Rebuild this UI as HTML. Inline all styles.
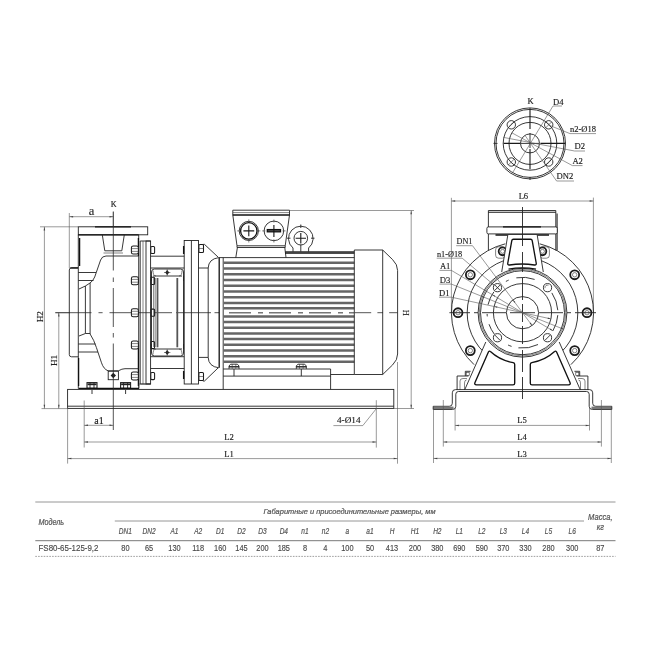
<!DOCTYPE html>
<html><head><meta charset="utf-8"><title>Pump dimensions</title>
<style>
html,body{margin:0;padding:0;background:#fff;}
body{width:650px;height:650px;overflow:hidden;font-family:"Liberation Sans",sans-serif;}
svg{display:block;will-change:transform}
.l{fill:none;stroke:#222;stroke-width:0.9}
.lw{fill:#fff;stroke:#222;stroke-width:0.9}
.l2{fill:none;stroke:#333;stroke-width:0.6}
.k{fill:none;stroke:#111;stroke-width:1.3}
.n{fill:#fff;stroke:#1a1a1a;stroke-width:1.05}
.l3{fill:none;stroke:#444;stroke-width:0.45}
.cl{fill:none;stroke:#2a2a2a;stroke-width:0.8}
.kb{fill:none;stroke:#222;stroke-width:1.8}
.bar{fill:none;stroke:#555;stroke-width:1.8}
.g4{fill:none;stroke:#777;stroke-width:2.6}
.k1{fill:none;stroke:#1a1a1a;stroke-width:1.1}
.kk{fill:#fff;stroke:#111;stroke-width:1.35;stroke-linejoin:round}
.f{fill:#222;stroke:none}
.wf{fill:#fff;stroke:none}
.g2{fill:none;stroke:#666;stroke-width:1.4}
.g3{fill:none;stroke:#777;stroke-width:2}
.fin{fill:none;stroke:#666;stroke-width:2.5}
.mc{fill:none;stroke:#777;stroke-width:1.5;stroke-dasharray:22 7 5 6}
.c{fill:none;stroke:#333;stroke-width:0.6;stroke-dasharray:12 3 3 3}
.d{fill:none;stroke:#555;stroke-width:0.6}
.af{fill:#444;stroke:none}
.dsh{fill:none;stroke:#222;stroke-width:0.9;stroke-dasharray:9 6}
.bolt{fill:#fff;stroke:#1a1a1a;stroke-width:1.8}
.t{font-family:"Liberation Serif",serif;font-size:8.6px;fill:#222;stroke:#222;stroke-width:0.15}
.th{font-family:"Liberation Sans",sans-serif;font-style:italic;font-size:8.4px;fill:#555;stroke:#555;stroke-width:0.2}
.td{font-family:"Liberation Sans",sans-serif;font-size:8.6px;fill:#4a4a4a;stroke:#4a4a4a;stroke-width:0.15}
.tl{stroke:#8a8a8a;stroke-width:0.9}
.tl2{stroke:#6a6a6a;stroke-width:0.9}
.tdot{stroke:#888;stroke-width:0.8;stroke-dasharray:1.6 1.2}
</style></head><body>
<svg width="650" height="650" viewBox="0 0 650 650">
<rect x="0" y="0" width="650" height="650" fill="#fff"/>
<line class="d" x1="40" y1="226.8" x2="78" y2="226.8"/>
<line class="d" x1="55" y1="312.7" x2="70" y2="312.7"/>
<line class="d" x1="41.5" y1="408.6" x2="67.6" y2="408.6"/>
<line class="d" x1="44.4" y1="226.8" x2="44.4" y2="408.6"/>
<path class="af" d="M44.40,226.80L45.15,230.60L43.65,230.60Z"/>
<path class="af" d="M44.40,408.60L43.65,404.80L45.15,404.80Z"/>
<line class="d" x1="58.8" y1="312.7" x2="58.8" y2="408.6"/>
<path class="af" d="M58.80,312.70L59.55,316.50L58.05,316.50Z"/>
<path class="af" d="M58.80,408.60L58.05,404.80L59.55,404.80Z"/>
<text class="t" transform="translate(43,316.7) rotate(-90) scale(1.12,1)" text-anchor="middle" style="font-size:8.2px">H2</text>
<text class="t" transform="translate(57,360.5) rotate(-90) scale(1.12,1)" text-anchor="middle" style="font-size:8.2px">H1</text>
<line class="d" x1="69.3" y1="213" x2="69.3" y2="268"/>
<line class="d" x1="113.3" y1="211" x2="113.3" y2="226"/>
<line class="d" x1="69.3" y1="216.7" x2="113.3" y2="216.7"/>
<path class="af" d="M69.30,216.70L73.10,215.95L73.10,217.45Z"/>
<path class="af" d="M113.30,216.70L109.50,217.45L109.50,215.95Z"/>
<text class="t" x="91.5" y="215" text-anchor="middle" style="font-size:12.5px">a</text>
<text class="t" x="113.8" y="206.8" text-anchor="middle" style="font-size:8.2px">K</text>
<rect class="l" x="78.3" y="226.8" width="69.4" height="8" rx="0"/>
<line class="k" x1="95" y1="226.8" x2="131" y2="226.8"/>
<path class="l" d="M78.3,234.8V388.5H138.7V234.8"/>
<line class="k" x1="78.3" y1="234.8" x2="138.7" y2="234.8"/>
<path class="k" d="M79.6,238V266"/>
<path class="k" d="M138.4,238V256"/>
<path class="k" d="M138.4,345V386"/>
<path class="k" d="M78.6,358V386"/>
<path class="l" d="M78.3,267.8H71.5Q69.3,267.8 69.3,270V354.6Q69.3,356.8 71.5,356.8H78.3"/>
<line class="k" x1="70.3" y1="268" x2="78" y2="268"/>
<path class="l" d="M102.3,234.8L104.8,250.8 M124.3,234.8L121.8,250.8"/>
<line class="l" x1="104.8" y1="250.8" x2="121.8" y2="250.8"/>
<line class="l2" x1="103.5" y1="253" x2="123" y2="253"/>
<path class="l" d="M138.7,256H106Q102,256 100.6,260L94.7,277Q93,281 90,283L85.4,286 L79,289"/>
<line class="l" x1="78.3" y1="272.5" x2="96" y2="272.5"/>
<line class="l" x1="78.3" y1="280.5" x2="93.5" y2="280.5"/>
<path class="l" d="M85.4,286V333.5"/>
<path class="l" d="M90.1,283V334"/>
<path class="l" d="M79,336L85.4,333.5H90.1"/>
<path class="l" d="M90.1,334Q94,340 96.4,347.5L101.5,362.8Q103.5,369 108,370.8H118.4 Q122,368.7 125,368.7H138.7"/>
<line class="l" x1="78.3" y1="344" x2="95.5" y2="344"/>
<line class="l" x1="78.3" y1="352" x2="98" y2="352"/>
<rect class="l" x="108.2" y="371.2" width="10.2" height="8.5" rx="0"/>
<path class="f" d="M113.3,372.8L116,375.5L113.3,378.2L110.6,375.5Z"/>
<rect class="n" x="87" y="382.6" width="10" height="5.6" rx="0"/>
<line class="l" x1="90" y1="382.6" x2="90" y2="388"/>
<line class="l" x1="94" y1="382.6" x2="94" y2="388"/>
<line class="kb" x1="87.5" y1="384.3" x2="96.5" y2="384.3"/>
<line class="l" x1="92" y1="390" x2="92" y2="394"/>
<rect class="n" x="120.6" y="382.6" width="10" height="5.6" rx="0"/>
<line class="l" x1="123.6" y1="382.6" x2="123.6" y2="388"/>
<line class="l" x1="127.6" y1="382.6" x2="127.6" y2="388"/>
<line class="kb" x1="121.1" y1="384.3" x2="130.1" y2="384.3"/>
<line class="l" x1="125.6" y1="390" x2="125.6" y2="394"/>
<line class="k" x1="79" y1="388.3" x2="139" y2="388.3"/>
<path class="cl" d="M113.3,212V270.5 M113.3,277.5V282 M113.3,288V327 M113.3,333V337.5 M113.3,343.5V430"/>
<path class="cl" d="M55.5,312.7H91.5 M98.5,312.7H102.6 M109.5,312.7H172 M176,312.7H211 M214.5,312.7H219"/>
<path class="l" d="M140.2,241V384"/>
<rect class="l" x="146" y="241" width="4.6" height="143" rx="0"/>
<path class="l" d="M140.2,241H150.6 M140.2,384H150.6"/>
<line class="l2" x1="143" y1="241" x2="143" y2="384"/>
<rect class="n" x="131.4" y="246" width="7" height="8" rx="1.8"/>
<line class="l2" x1="131.6" y1="248.6" x2="138.4" y2="248.6"/>
<line class="l2" x1="131.6" y1="251.4" x2="138.4" y2="251.4"/>
<rect class="n" x="150.8" y="246.4" width="3.8" height="7.2" rx="1"/>
<rect class="n" x="131.4" y="276.8" width="7" height="8" rx="1.8"/>
<line class="l2" x1="131.6" y1="279.40000000000003" x2="138.4" y2="279.40000000000003"/>
<line class="l2" x1="131.6" y1="282.2" x2="138.4" y2="282.2"/>
<rect class="n" x="150.8" y="277.2" width="3.8" height="7.2" rx="1"/>
<rect class="n" x="131.4" y="308.7" width="7" height="8" rx="1.8"/>
<line class="l2" x1="131.6" y1="311.3" x2="138.4" y2="311.3"/>
<line class="l2" x1="131.6" y1="314.09999999999997" x2="138.4" y2="314.09999999999997"/>
<rect class="n" x="150.8" y="309.09999999999997" width="3.8" height="7.2" rx="1"/>
<rect class="n" x="131.4" y="341" width="7" height="8" rx="1.8"/>
<line class="l2" x1="131.6" y1="343.6" x2="138.4" y2="343.6"/>
<line class="l2" x1="131.6" y1="346.4" x2="138.4" y2="346.4"/>
<rect class="n" x="150.8" y="341.4" width="3.8" height="7.2" rx="1"/>
<rect class="n" x="131.4" y="372" width="7" height="8" rx="1.8"/>
<line class="l2" x1="131.6" y1="374.6" x2="138.4" y2="374.6"/>
<line class="l2" x1="131.6" y1="377.4" x2="138.4" y2="377.4"/>
<rect class="n" x="150.8" y="372.4" width="3.8" height="7.2" rx="1"/>
<path class="l" d="M150.6,256.2H184.2 M150.6,268H184.2 M150.6,356.7H184.2 M150.6,368.5H184.2"/>
<path class="l" d="M151.5,281V272Q151.5,269 154.5,269H180.5Q183.5,269 183.5,272V281"/>
<path class="l" d="M151.5,344V353Q151.5,356 154.5,356H180.5Q183.5,356 183.5,353V344"/>
<path class="l" d="M153,276H182 M153,349H182"/>
<path class="l2" d="M153,270.5Q153,276 156,276 M182,270.5Q182,276 179,276 M153,354.5Q153,349 156,349 M182,354.5Q182,349 179,349"/>
<line class="l" x1="151.5" y1="276" x2="151.5" y2="349"/>
<line class="l" x1="183.5" y1="276" x2="183.5" y2="349"/>
<line class="l2" x1="155.2" y1="278" x2="155.2" y2="347"/>
<line class="bar" x1="157.5" y1="278" x2="157.5" y2="347.3"/>
<line class="bar" x1="177.3" y1="278" x2="177.3" y2="347.3"/>
<line class="l2" x1="153.6" y1="278" x2="153.6" y2="347"/>
<path class="f" d="M167.2,269.9L169.2,272.5L167.2,275.1L165.2,272.5Z"/>
<line class="l2" x1="164" y1="272.5" x2="170.4" y2="272.5"/>
<line class="l2" x1="167.2" y1="269.3" x2="167.2" y2="275.7"/>
<path class="f" d="M167.2,349.9L169.2,352.5L167.2,355.1L165.2,352.5Z"/>
<line class="l2" x1="164" y1="352.5" x2="170.4" y2="352.5"/>
<line class="l2" x1="167.2" y1="349.3" x2="167.2" y2="355.7"/>
<rect class="l" x="184.2" y="240.5" width="14.3" height="143.5" rx="0"/>
<line class="l" x1="191.4" y1="240.5" x2="191.4" y2="384"/>
<line class="k" x1="183.6" y1="246" x2="183.6" y2="254"/>
<line class="k" x1="183.6" y1="371" x2="183.6" y2="379"/>
<rect class="n" x="198.9" y="244.5" width="4.6" height="8" rx="1"/>
<line class="l2" x1="198.9" y1="248.5" x2="203.5" y2="248.5"/>
<rect class="n" x="198.9" y="372.5" width="4.6" height="8" rx="1"/>
<line class="l2" x1="198.9" y1="376.5" x2="203.5" y2="376.5"/>
<path class="l" d="M198.5,268H208.2V357.4H198.5"/>
<path class="l" d="M202.9,244.4H204.5L218,257"/>
<path class="l" d="M202.9,381H204.5L218,368"/>
<path class="l" d="M208.2,268Q208.5,259 218.8,257.6"/>
<path class="l" d="M208.2,357.4Q208.5,366.5 218.8,367.8"/>
<path class="k" d="M219.2,257.6V367.8"/>
<path class="l" d="M223.2,257.6V389.3"/>
<line class="l" x1="218.8" y1="257.6" x2="354.3" y2="257.6"/>
<line class="fin" x1="223.6" y1="262.7" x2="354.3" y2="262.7"/>
<line class="fin" x1="223.6" y1="268.46" x2="354.3" y2="268.46"/>
<line class="fin" x1="223.6" y1="274.22" x2="354.3" y2="274.22"/>
<line class="fin" x1="223.6" y1="279.98" x2="354.3" y2="279.98"/>
<line class="fin" x1="223.6" y1="285.74" x2="354.3" y2="285.74"/>
<line class="fin" x1="223.6" y1="291.5" x2="354.3" y2="291.5"/>
<line class="fin" x1="223.6" y1="297.26" x2="354.3" y2="297.26"/>
<line class="fin" x1="223.6" y1="303.02" x2="354.3" y2="303.02"/>
<line class="fin" x1="223.6" y1="308.2" x2="354.3" y2="308.2"/>
<line class="fin" x1="223.6" y1="316.4" x2="354.3" y2="316.4"/>
<line class="fin" x1="223.6" y1="322.08" x2="354.3" y2="322.08"/>
<line class="fin" x1="223.6" y1="327.76" x2="354.3" y2="327.76"/>
<line class="fin" x1="223.6" y1="333.44" x2="354.3" y2="333.44"/>
<line class="fin" x1="223.6" y1="339.12" x2="354.3" y2="339.12"/>
<line class="fin" x1="223.6" y1="344.8" x2="354.3" y2="344.8"/>
<line class="fin" x1="223.6" y1="350.48" x2="354.3" y2="350.48"/>
<line class="fin" x1="223.6" y1="356.16" x2="354.3" y2="356.16"/>
<line class="fin" x1="223.6" y1="361.84" x2="354.3" y2="361.84"/>
<path class="mc" d="M229,312.7H354"/>
<path class="cl" d="M354.5,312.7H371.2 M377.4,312.7H383 M389.2,312.7H397.5"/>
<path class="l" d="M232.8,210.2H289.5V215L285.2,245.8V247.5H237V245.8L232.8,215Z"/>
<line class="k" x1="232.8" y1="215" x2="289.5" y2="215"/>
<line class="l" x1="237" y1="245.8" x2="285.2" y2="245.8"/>
<path class="l" d="M237.4,247.5L235.8,257.6 M284.8,247.5L286,257.6"/>
<line class="l2" x1="233" y1="212.6" x2="289.3" y2="212.6"/>
<circle class="l" cx="248.8" cy="230.9" r="9.6"/>
<circle class="k" cx="248.8" cy="230.9" r="8.2"/>
<path class="k1" d="M248.8,225.5V236.3 M243.4,230.9H254.2"/>
<path class="l2" d="M248.8,219.3V222.5 M237.2,230.9H240.4 M257.2,230.9H260.4 M248.8,239.3V242.5"/>
<circle class="l" cx="273.9" cy="230.9" r="9.8"/>
<path class="k1" d="M273.9,225V237 M267,230.9H281"/>
<rect class="k" x="267.3" y="229.6" width="13.2" height="2.2" rx="0"/>
<path class="l2" d="M273.9,219.5V222.5 M262.2,230.9H265.4 M282.4,230.9H285.6 M273.9,239.3V242.5"/>
<line class="l" x1="285.2" y1="251.7" x2="354.3" y2="251.7"/>
<line class="k" x1="285.2" y1="253" x2="354.3" y2="253"/>
<path class="l" d="M293,251.7V248 A12.3,12.3 0 1 1 308.6,248V251.7"/>
<circle class="l" cx="300.8" cy="238.2" r="6.8"/>
<path class="k1" d="M300.8,233V243.4 M295.6,238.2H306"/>
<path class="l" d="M300.8,244.5V251.7 M300.8,224.5V228 M287,238.2H290.5 M311,238.2H314.5"/>
<path class="l" d="M354.3,250H382.7L392.6,259.6Q397.6,264.5 397.6,270.5V354Q397.6,360 392.6,364.9L382.7,374.5H354.3Z"/>
<line class="l" x1="382.7" y1="250" x2="382.7" y2="374.5"/>
<path class="l" d="M223.2,369H330.6V389.3"/>
<line class="l" x1="223.2" y1="376.1" x2="330.6" y2="376.1"/>
<line class="l" x1="330.6" y1="374.5" x2="354.3" y2="374.5"/>
<path class="l" d="M229,368.8V366L230.6,364.2H237.4L239,366V368.8"/>
<line class="k" x1="229" y1="366.8" x2="239" y2="366.8"/>
<line class="l2" x1="232.2" y1="364.2" x2="232.2" y2="368.8"/>
<line class="l2" x1="235.8" y1="364.2" x2="235.8" y2="368.8"/>
<line class="l" x1="234" y1="369" x2="234" y2="376.1"/>
<path class="l" d="M296.3,368.8V366L297.90000000000003,364.2H304.7L306.3,366V368.8"/>
<line class="k" x1="296.3" y1="366.8" x2="306.3" y2="366.8"/>
<line class="l2" x1="299.5" y1="364.2" x2="299.5" y2="368.8"/>
<line class="l2" x1="303.1" y1="364.2" x2="303.1" y2="368.8"/>
<line class="l" x1="301.3" y1="369" x2="301.3" y2="376.1"/>
<path class="l2" d="M139,388.5V384H150.6"/>
<rect class="l" x="67.6" y="389.4" width="326.2" height="19" rx="0"/>
<line class="l" x1="67.6" y1="406.2" x2="393.8" y2="406.2"/>
<line class="d" x1="289.5" y1="210.5" x2="414" y2="210.5"/>
<line class="d" x1="394" y1="408.5" x2="414" y2="408.5"/>
<line class="d" x1="411.2" y1="210.5" x2="411.2" y2="408.5"/>
<path class="af" d="M411.20,210.50L411.95,214.30L410.45,214.30Z"/>
<path class="af" d="M411.20,408.50L410.45,404.70L411.95,404.70Z"/>
<text class="t" x="409.2" y="312.7" transform="rotate(-90 409.2 312.7)" text-anchor="middle" style="font-size:8.2px">H</text>
<line class="d" x1="67.6" y1="407" x2="67.6" y2="463.6"/>
<line class="d" x1="397.5" y1="362" x2="397.5" y2="463.7"/>
<line class="d" x1="84.2" y1="400.5" x2="84.2" y2="447.5"/>
<line class="d" x1="376.3" y1="400.2" x2="376.3" y2="447.6"/>
<line class="d" x1="84.2" y1="425.3" x2="113.3" y2="425.3"/>
<path class="af" d="M84.20,425.30L88.00,424.55L88.00,426.05Z"/>
<path class="af" d="M113.30,425.30L109.50,426.05L109.50,424.55Z"/>
<line class="d" x1="84.2" y1="442" x2="376.3" y2="442"/>
<path class="af" d="M84.20,442.00L88.00,441.25L88.00,442.75Z"/>
<path class="af" d="M376.30,442.00L372.50,442.75L372.50,441.25Z"/>
<line class="d" x1="67.6" y1="458.6" x2="397.5" y2="458.6"/>
<path class="af" d="M67.60,458.60L71.40,457.85L71.40,459.35Z"/>
<path class="af" d="M397.50,458.60L393.70,459.35L393.70,457.85Z"/>
<text class="t" x="99" y="423.8" text-anchor="middle" style="font-size:10px">a1</text>
<text class="t" x="229" y="439.8" text-anchor="middle">L2</text>
<text class="t" x="229" y="456.6" text-anchor="middle">L1</text>
<text class="t" x="337" y="422.8" textLength="23.5" lengthAdjust="spacingAndGlyphs">4-Ø14</text>
<path class="d" d="M333.4,425.6H362.8L376.3,408.7"/>
<circle class="l" cx="530" cy="143.4" r="35.5"/>
<circle class="l" cx="530" cy="143.4" r="34"/>
<circle class="l" cx="530" cy="143.4" r="26.8"/>
<circle class="l" cx="530" cy="143.4" r="21"/>
<circle class="l" cx="530" cy="143.4" r="9.5"/>
<circle class="l" cx="511.3" cy="124.80000000000001" r="4.2"/>
<line class="l2" x1="508.3" y1="127.80000000000001" x2="514.3" y2="121.80000000000001"/>
<circle class="l" cx="511.3" cy="162.0" r="4.2"/>
<line class="l2" x1="508.3" y1="165.0" x2="514.3" y2="159.0"/>
<circle class="l" cx="548.7" cy="124.80000000000001" r="4.2"/>
<line class="l2" x1="545.7" y1="127.80000000000001" x2="551.7" y2="121.80000000000001"/>
<circle class="l" cx="548.7" cy="162.0" r="4.2"/>
<line class="l2" x1="545.7" y1="165.0" x2="551.7" y2="159.0"/>
<line class="l2" x1="545.7" y1="121.80000000000001" x2="551.7" y2="127.80000000000001"/>
<path class="k1" d="M530,108.3V129 M530,149V169.3"/>
<path class="l" d="M530,133V148 M530,176.9V180"/>
<path class="k1" d="M503.5,143.4H520.5 M540.4,143.4H565.5"/>
<path class="l" d="M493.5,143.4H497.5 M521,143.4H539"/>
<text class="t" x="530.6" y="103.6" text-anchor="middle">K</text>
<text class="t" x="553" y="104.8" >D4</text>
<path class="d" d="M553,106H562"/>
<path class="d" d="M553,106L513,172"/>
<text class="t" x="570" y="132.2" textLength="26" lengthAdjust="spacingAndGlyphs">n2-Ø18</text>
<path class="d" d="M570,133.6H596"/>
<path class="d" d="M570,133.6L549,125.2"/>
<text class="t" x="574.6" y="149.4" >D2</text>
<path class="d" d="M574.6,151H585"/>
<path class="d" d="M574.6,151L503.5,137.4"/>
<text class="t" x="572.4" y="164" >A2</text>
<path class="d" d="M572.4,165.6H582.5"/>
<path class="d" d="M572.4,165.6L512,132.9"/>
<text class="t" x="556.6" y="179.4" >DN2</text>
<path class="d" d="M556.6,181H574"/>
<path class="d" d="M556.6,181L525,135.4"/>
<line class="d" x1="451.4" y1="197.8" x2="451.4" y2="312.7"/>
<line class="d" x1="593.4" y1="197.6" x2="593.4" y2="312.7"/>
<line class="d" x1="451.4" y1="201" x2="593.4" y2="201"/>
<path class="af" d="M451.40,201.00L455.20,200.25L455.20,201.75Z"/>
<path class="af" d="M593.40,201.00L589.60,201.75L589.60,200.25Z"/>
<text class="t" x="523.4" y="199.2" text-anchor="middle">L6</text>
<path class="l" d="M488.4,250.4V210.5H555.8V250.4"/>
<line class="k1" x1="488.4" y1="212.3" x2="555.8" y2="212.3"/>
<line class="g3" x1="557" y1="213.6" x2="557" y2="250.5"/>
<rect class="lw" x="486.9" y="226.9" width="70.4" height="7" rx="1.5"/>
<line class="k" x1="503" y1="226.9" x2="541" y2="226.9"/>
<line class="k" x1="495.5" y1="235" x2="549" y2="235"/>
<path class="l" d="M474.08,364.63A71,71 0 0 1 505.32,243.81"/>
<path class="l" d="M539.68,243.81A71,71 0 0 1 570.92,364.63"/>
<path class="l" d="M490.00,357.44A55.3,55.3 0 0 1 503.59,260.73"/>
<path class="l" d="M541.41,260.73A55.3,55.3 0 0 1 555.00,357.44"/>
<circle class="bolt" cx="587.00" cy="312.70" r="4.45"/>
<circle class="l2" cx="587.0" cy="312.7" r="2.2"/>
<circle class="bolt" cx="574.68" cy="350.61" r="4.45"/>
<circle class="l2" cx="574.68" cy="350.61" r="2.2"/>
<circle class="bolt" cx="470.32" cy="350.61" r="4.45"/>
<circle class="l2" cx="470.32" cy="350.61" r="2.2"/>
<circle class="bolt" cx="458.00" cy="312.70" r="4.45"/>
<circle class="l2" cx="458.0" cy="312.7" r="2.2"/>
<circle class="bolt" cx="470.32" cy="274.79" r="4.45"/>
<circle class="l2" cx="470.32" cy="274.79" r="2.2"/>
<circle class="bolt" cx="574.68" cy="274.79" r="4.45"/>
<circle class="l2" cx="574.68" cy="274.79" r="2.2"/>
<circle class="bolt" cx="502.57" cy="251.36" r="3.9"/>
<circle class="l2" cx="502.57" cy="251.36" r="2"/>
<circle class="bolt" cx="542.43" cy="251.36" r="3.9"/>
<circle class="l2" cx="542.43" cy="251.36" r="2"/>
<rect class="l2" x="495.6" y="246.8" width="9.8" height="11.4" rx="3"/>
<rect class="l2" x="539.6" y="246.8" width="9.8" height="11.4" rx="3"/>
<path class="wf" d="M507.8,235L501.5,274H543.5L537.2,235Z"/>
<path class="l" d="M507.8,235L501.7,272 M537.2,235L543.3,272"/>
<path class="wf" d="M485.8,342L464.8,389.6H580.2L559.2,342L522.5,330Z"/>
<path class="l" d="M485.8,342L464.8,389.6 M559.2,342L580.2,389.6"/>
<circle class="lw" cx="522.5" cy="312.7" r="44.4"/>
<circle class="l" cx="522.5" cy="312.7" r="42"/>
<circle class="l" cx="522.5" cy="312.7" r="29.1"/>
<circle class="l" cx="522.5" cy="312.7" r="16.1"/>
<path class="l" d="M551.85,292.90A35.4,35.4 0 0 1 557.81,310.23"/>
<path class="l" d="M557.81,315.17A35.4,35.4 0 0 1 552.84,330.93"/>
<path class="l" d="M538.02,344.52A35.4,35.4 0 0 1 518.43,347.87"/>
<path class="l" d="M511.56,346.37A35.4,35.4 0 0 1 508.10,345.04"/>
<path class="l" d="M494.23,334.00A35.4,35.4 0 0 1 489.03,324.23"/>
<path class="l" d="M487.29,316.40A35.4,35.4 0 0 1 487.12,313.94"/>
<path class="l" d="M488.01,304.74A35.4,35.4 0 0 1 493.86,291.89"/>
<path class="l" d="M505.88,281.44A35.4,35.4 0 0 1 508.67,280.11"/>
<path class="l" d="M516.35,277.84A35.4,35.4 0 0 1 534.61,279.43"/>
<circle class="lw" cx="547.53" cy="337.73" r="4.1"/>
<line class="l" x1="544.83" y1="340.43" x2="550.23" y2="335.03"/>
<circle class="lw" cx="497.47" cy="337.73" r="4.1"/>
<line class="l" x1="494.77" y1="335.03" x2="500.17" y2="340.43"/>
<circle class="lw" cx="497.47" cy="287.67" r="4.1"/>
<line class="l" x1="494.77" y1="290.37" x2="500.17" y2="284.97"/>
<line class="l" x1="494.77" y1="284.97" x2="500.17" y2="290.37"/>
<circle class="lw" cx="547.53" cy="287.67" r="4.1"/>
<path class="l2" d="M544.97,288.12A2.6,2.6 0 0 1 548.42,285.23"/>
<circle class="l2" cx="522.5" cy="312.7" r="43.2"/>
<path class="kk" d="M513.4,239.2H530.6Q532,239.2 532.2,240.6L536.2,263Q536.6,265.3 534.5,265 Q522,263 509.5,265Q507.4,265.3 507.8,263L511.8,240.6Q512,239.2 513.4,239.2Z"/>
<path class="k" d="M508.5,269.2Q522.3,266.4 536,269.2"/>
<path class="kk" d="M490.4,351.6Q500,360.5 513.2,362.6Q514.7,362.9 514.7,364.5V383.2Q514.7,384.8 513,384.8H476.5Q474,384.8 475,382.5L488.4,352Q489.2,350.4 490.4,351.6Z"/>
<path class="kk" d="M554.6,351.6Q545,360.5 531.8,362.6Q530.3,362.9 530.3,364.5V383.2Q530.3,384.8 532,384.8H568.5Q571,384.8 570,382.5L556.6,352Q555.8,350.4 554.6,351.6Z"/>
<path class="l" d="M457.1,390V376H468.5"/>
<path class="l" d="M465.3,376V371.3H470.6"/>
<path class="l2" d="M460.0,390V381Q460.0,378.5 463.0,378.5H467.0"/>
<path class="l2" d="M464.5,390V383Q464.5,380 466.5,380"/>
<rect class="l2" x="466.2" y="372.6" width="3" height="3" rx="0"/>
<path class="l" d="M587.9,390V376H576.5"/>
<path class="l" d="M579.7,376V371.3H574.4"/>
<path class="l2" d="M585.0,390V381Q585.0,378.5 582.0,378.5H578.0"/>
<path class="l2" d="M580.5,390V383Q580.5,380 578.5,380"/>
<rect class="l2" x="575.8" y="372.6" width="3" height="3" rx="0"/>
<path class="l" d="M433.2,406.3H449.3Q452.3,406.3 452.3,403.3V392.8Q452.3,389.6 455.5,389.6H589.5Q592.7,389.6 592.7,392.8V403.3Q592.7,406.3 595.7,406.3H611.8"/>
<path class="l" d="M433.2,409.5H452.5Q455.8,409.5 455.8,406.3V394.2Q455.8,391.5 458.5,391.5H586.5Q589.2,391.5 589.2,394.2V406.3Q589.2,409.5 592.5,409.5H611.8"/>
<line class="g4" x1="433.2" y1="407.9" x2="453.5" y2="407.9"/>
<line class="g4" x1="591.5" y1="407.9" x2="611.8" y2="407.9"/>
<path class="l" d="M433.2,406.3V409.5 M611.8,406.3V409.5"/>
<path class="l" d="M522.5,207V246"/>
<path class="l" d="M522.5,252V272 M522.5,278V300 M522.5,304V322 M522.5,326V344 M522.5,350V372 M522.5,377V399"/>
<path class="l" d="M449.4,312.7H470 M474,312.7H478 M482,312.7H506 M510,312.7H535 M539,312.7H563 M567,312.7H571 M575,312.7H596"/>
<text class="t" x="456.6" y="244.1" textLength="15.8" lengthAdjust="spacingAndGlyphs">DN1</text>
<path class="d" d="M456.2,245.7H472.5"/>
<path class="d" d="M472.5,245.7L532.13,325.60"/>
<path class="af" d="M532.13,325.60L529.65,323.46L530.78,322.62Z"/>
<path class="af" d="M512.87,299.80L515.35,301.94L514.22,302.78Z"/>
<text class="t" x="436.9" y="256.6" textLength="25.3" lengthAdjust="spacingAndGlyphs">n1-Ø18</text>
<path class="d" d="M436.7,258.2H462.2"/>
<path class="d" d="M462.2,258.2L494.2,285.2"/>
<path class="af" d="M494.20,285.20L491.30,283.67L492.21,282.60Z"/>
<text class="t" x="450.4" y="269" text-anchor="end">A1</text>
<path class="d" d="M439.5,270.4H451.4"/>
<path class="d" d="M451.4,270.4L552.92,330.80"/>
<path class="af" d="M552.92,330.80L549.81,329.77L550.53,328.56Z"/>
<path class="af" d="M492.08,294.60L495.19,295.63L494.47,296.84Z"/>
<text class="t" x="450.2" y="282.7" text-anchor="end">D3</text>
<path class="d" d="M439.5,284.1H451.4"/>
<path class="d" d="M451.4,284.1L563.69,329.27"/>
<path class="af" d="M563.69,329.27L560.46,328.72L560.98,327.43Z"/>
<path class="af" d="M481.31,296.13L484.54,296.68L484.02,297.97Z"/>
<text class="t" x="449.6" y="295.8" text-anchor="end">D1</text>
<path class="d" d="M439,297.2H451.4"/>
<path class="d" d="M451.4,297.2L550.93,318.90"/>
<path class="af" d="M550.93,318.90L547.66,318.90L547.95,317.53Z"/>
<path class="af" d="M494.07,306.50L497.34,306.50L497.05,307.87Z"/>
<line class="d" x1="455.1" y1="408" x2="455.1" y2="430.5"/>
<line class="d" x1="589.5" y1="408" x2="589.5" y2="430.5"/>
<line class="d" x1="443.3" y1="400" x2="443.3" y2="446.6"/>
<line class="d" x1="601.4" y1="400" x2="601.4" y2="446.6"/>
<line class="d" x1="433.5" y1="407" x2="433.5" y2="463"/>
<line class="d" x1="611.3" y1="407" x2="611.3" y2="463"/>
<line class="d" x1="455.1" y1="425.4" x2="589.5" y2="425.4"/>
<path class="af" d="M455.10,425.40L458.90,424.65L458.90,426.15Z"/>
<path class="af" d="M589.50,425.40L585.70,426.15L585.70,424.65Z"/>
<line class="d" x1="443.3" y1="442" x2="601.4" y2="442"/>
<path class="af" d="M443.30,442.00L447.10,441.25L447.10,442.75Z"/>
<path class="af" d="M601.40,442.00L597.60,442.75L597.60,441.25Z"/>
<line class="d" x1="433.5" y1="458.4" x2="611.3" y2="458.4"/>
<path class="af" d="M433.50,458.40L437.30,457.65L437.30,459.15Z"/>
<path class="af" d="M611.30,458.40L607.50,459.15L607.50,457.65Z"/>
<text class="t" x="522" y="423" text-anchor="middle">L5</text>
<text class="t" x="522" y="439.6" text-anchor="middle">L4</text>
<text class="t" x="522" y="456.6" text-anchor="middle">L3</text>
<line class="tl" x1="35.3" y1="502" x2="615.5" y2="502"/>
<line class="tl" x1="114.8" y1="521" x2="584" y2="521"/>
<line class="tl2" x1="35.3" y1="540.7" x2="615.5" y2="540.7"/>
<line class="tdot" x1="35.3" y1="556.4" x2="615.5" y2="556.4"/>
<text class="th" x="38.5" y="524.5" textLength="25.6" lengthAdjust="spacingAndGlyphs">Модель</text>
<text class="th" x="263.5" y="514.4" textLength="172" lengthAdjust="spacingAndGlyphs" style="font-size:7.2px">Габаритные и присоединительные размеры, мм</text>
<text class="th" transform="translate(600.3,520.4) scale(0.9,1)" text-anchor="middle">Масса,</text>
<text class="th" transform="translate(600.3,529.6) scale(0.9,1)" text-anchor="middle">кг</text>
<text class="th" transform="translate(125.4,534.2) scale(0.78,1)" text-anchor="middle">DN1</text>
<text class="td" transform="translate(125.4,550.8) scale(0.86,1)" text-anchor="middle">80</text>
<text class="th" transform="translate(149,534.2) scale(0.78,1)" text-anchor="middle">DN2</text>
<text class="td" transform="translate(149,550.8) scale(0.86,1)" text-anchor="middle">65</text>
<text class="th" transform="translate(174.5,534.2) scale(0.78,1)" text-anchor="middle">A1</text>
<text class="td" transform="translate(174.5,550.8) scale(0.86,1)" text-anchor="middle">130</text>
<text class="th" transform="translate(198.2,534.2) scale(0.78,1)" text-anchor="middle">A2</text>
<text class="td" transform="translate(198.2,550.8) scale(0.86,1)" text-anchor="middle">118</text>
<text class="th" transform="translate(220.2,534.2) scale(0.78,1)" text-anchor="middle">D1</text>
<text class="td" transform="translate(220.2,550.8) scale(0.86,1)" text-anchor="middle">160</text>
<text class="th" transform="translate(241.5,534.2) scale(0.78,1)" text-anchor="middle">D2</text>
<text class="td" transform="translate(241.5,550.8) scale(0.86,1)" text-anchor="middle">145</text>
<text class="th" transform="translate(262.5,534.2) scale(0.78,1)" text-anchor="middle">D3</text>
<text class="td" transform="translate(262.5,550.8) scale(0.86,1)" text-anchor="middle">200</text>
<text class="th" transform="translate(283.8,534.2) scale(0.78,1)" text-anchor="middle">D4</text>
<text class="td" transform="translate(283.8,550.8) scale(0.86,1)" text-anchor="middle">185</text>
<text class="th" transform="translate(305,534.2) scale(0.78,1)" text-anchor="middle">n1</text>
<text class="td" transform="translate(305,550.8) scale(0.86,1)" text-anchor="middle">8</text>
<text class="th" transform="translate(325.4,534.2) scale(0.78,1)" text-anchor="middle">n2</text>
<text class="td" transform="translate(325.4,550.8) scale(0.86,1)" text-anchor="middle">4</text>
<text class="th" transform="translate(347.4,534.2) scale(0.78,1)" text-anchor="middle">a</text>
<text class="td" transform="translate(347.4,550.8) scale(0.86,1)" text-anchor="middle">100</text>
<text class="th" transform="translate(370,534.2) scale(0.78,1)" text-anchor="middle">a1</text>
<text class="td" transform="translate(370,550.8) scale(0.86,1)" text-anchor="middle">50</text>
<text class="th" transform="translate(392,534.2) scale(0.78,1)" text-anchor="middle">H</text>
<text class="td" transform="translate(392,550.8) scale(0.86,1)" text-anchor="middle">413</text>
<text class="th" transform="translate(415,534.2) scale(0.78,1)" text-anchor="middle">H1</text>
<text class="td" transform="translate(415,550.8) scale(0.86,1)" text-anchor="middle">200</text>
<text class="th" transform="translate(437.3,534.2) scale(0.78,1)" text-anchor="middle">H2</text>
<text class="td" transform="translate(437.3,550.8) scale(0.86,1)" text-anchor="middle">380</text>
<text class="th" transform="translate(459.3,534.2) scale(0.78,1)" text-anchor="middle">L1</text>
<text class="td" transform="translate(459.3,550.8) scale(0.86,1)" text-anchor="middle">690</text>
<text class="th" transform="translate(481.8,534.2) scale(0.78,1)" text-anchor="middle">L2</text>
<text class="td" transform="translate(481.8,550.8) scale(0.86,1)" text-anchor="middle">590</text>
<text class="th" transform="translate(503.3,534.2) scale(0.78,1)" text-anchor="middle">L3</text>
<text class="td" transform="translate(503.3,550.8) scale(0.86,1)" text-anchor="middle">370</text>
<text class="th" transform="translate(525.5,534.2) scale(0.78,1)" text-anchor="middle">L4</text>
<text class="td" transform="translate(525.5,550.8) scale(0.86,1)" text-anchor="middle">330</text>
<text class="th" transform="translate(548.5,534.2) scale(0.78,1)" text-anchor="middle">L5</text>
<text class="td" transform="translate(548.5,550.8) scale(0.86,1)" text-anchor="middle">280</text>
<text class="th" transform="translate(572.2,534.2) scale(0.78,1)" text-anchor="middle">L6</text>
<text class="td" transform="translate(572.2,550.8) scale(0.86,1)" text-anchor="middle">300</text>
<text class="td" transform="translate(600.3,550.8) scale(0.86,1)" text-anchor="middle">87</text>
<text class="td" x="38.5" y="550.8" textLength="60" lengthAdjust="spacingAndGlyphs">FS80-65-125-9,2</text>
</svg>
</body></html>
